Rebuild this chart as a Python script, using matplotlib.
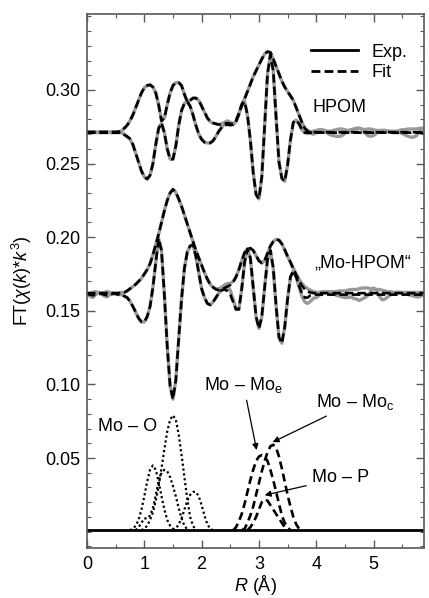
import numpy as np
import matplotlib.pyplot as plt
from matplotlib.lines import Line2D
from matplotlib.ticker import MultipleLocator

plt.rcParams['font.family'] = ['Liberation Sans', 'DejaVu Sans']
plt.rcParams['mathtext.fontset'] = 'custom'
plt.rcParams['mathtext.rm'] = 'Liberation Sans'
plt.rcParams['mathtext.it'] = 'Liberation Sans:italic'

# R grid (Angstrom), 0.00 ... 5.90 in 0.05 steps
r = np.round(np.arange(0, 5.901, 0.05), 2)

# vertical offsets used to stack the spectra
off_hpom = 0.271
off_mohpom = 0.161

# ---- HPOM, values in units of 0.001 ----
hpom_fit_mag = [
    0.5, 0.5, 0.5, 0.5, 0.5, 0.5, 0.5, 0.5, 0.5, 0.5,
    0.5, 0.7, 1, 3, 5, 8, 12, 17, 22, 27,
    30.5, 32, 32.5, 31, 27, 19, 8, 10, 19, 27,
    32, 34, 34, 32, 26, 21, 22, 23.5, 23.5, 22,
    18, 14, 10, 7.5, 6.5, 6, 5.5, 5.5, 6, 6.5,
    6, 6, 8, 13, 19, 23, 28, 33, 38, 42,
    46, 50, 53.5, 55, 54.5, 50, 45, 40, 35, 31,
    28, 25, 22, 17, 12, 7, 3, 1, 0.3, 0.3,
    0.3, 0.3, 0.3, 0.3, 0.3, 0.3, 0.3, 0.3, 0.3, 0.3,
    0.3, 0.3, 0.3, 0.3, 0.3, 0.3, 0.3, 0.3, 0.3, 0.3,
    0.3, 0.3, 0.3, 0.3, 0.3, 0.3, 0.3, 0.3, 0.3, 0.3,
    0.3, 0.3, 0.3, 0.3, 0.3, 0.3, 0.3, 0.3, 0.3]
hpom_fit_im = [
    0, 0, 0, 0, 0, 0, 0, 0, 0, 0,
    0, 0, 0, -1.5, -2.5, -4, -8, -14, -20, -26,
    -30, -31.5, -29, -21, -8, 3, 6.5, 0, -11, -18,
    -18, -9, 5, 15, 20, 21, 18, 12, 5, -1,
    -4.5, -6.5, -7, -7, -5.5, -2.5, 1, 3.5, 5, 5.5,
    5, 5.5, 7.5, 12.5, 18.5, 21, 12, -5, -27, -42,
    -45, -30, 5, 40, 53, 42, 10, -20, -31, -33,
    -22, -5, 7, 8.5, 6, 2, 0, 0, 0, 0,
    0, 0, 0, 0, 0, 0, 0, 0, 0, 0,
    0, 0, 0, 0, 0, 0, 0, 0, 0, 0,
    0, 0, 0, 0, 0, 0, 0, 0, 0, 0,
    0, 0, 0, 0, 0, 0, 0, 0, 0]
hpom_exp_mag = [
    0.5, 0.5, 0.5, 0.5, 0.5, 0.5, 0.5, 0.5, 0.5, 0.5,
    0.5, 0.7, 1, 3, 5, 8, 12, 17, 22, 27,
    30.5, 32, 32.5, 31, 27, 19, 8, 10, 19, 27,
    32, 34, 34, 32, 26, 21, 22, 23.5, 23.5, 22,
    18, 14, 10, 7.5, 6.5, 6, 5.5, 6, 7, 8,
    7, 6, 8, 13, 19, 23, 28, 33, 38, 42,
    46, 50, 53.5, 55, 54.5, 50, 45, 40, 35, 31,
    28, 25, 22, 17, 12, 7, 3, 1.5, 0.5, 1,
    1.5, 2, 2, 1.5, 1, 1, 1.5, 2, 2.5, 2.5,
    2, 1.5, 1.5, 2, 2.5, 3, 2.5, 2, 2.5, 2.5,
    2, 1.5, 1.5, 1.5, 1.5, 1, 1, 1, 1, 1.5,
    2, 2, 2.5, 2.5, 2.5, 2.5, 3, 3, 3]
hpom_exp_im = [
    0, 0, 0, 0, 0, 0, 0, 0, 0, 0,
    0, 0, 0, -1, -3, -4.5, -8, -14, -20, -26,
    -30, -31.5, -29, -21, -8, 3, 6.5, 0, -11, -18,
    -18, -9, 5, 15, 20, 21, 18, 12, 5, -1,
    -4.5, -6.5, -7, -7, -5.5, -2.5, 1, 3.5, 6, 7,
    6.5, 5.5, 7.5, 12.5, 18.5, 21, 12, -5, -27, -42,
    -45, -30, 5, 40, 53, 42, 10, -20, -31, -33,
    -22, -5, 7, 8.5, 6, 2, 0, -0.5, -0.5, -1,
    0, 1.5, 2, 1, -0.5, -1.5, -2, -2.5, -2.5, -2,
    -0.5, 1, 2, 2.5, 3, 3, 2, 0, -2, -2.5,
    -2, -0.5, 1, 1.5, 1.5, 1, 0.5, 0, 0, 0,
    -0.5, -1.5, -2.5, -3, -3, -2, 0.5, 2.5, 3.5]

# ---- "Mo-HPOM", values in units of 0.001 ----
mohpom_fit_mag = [
    1, 1, 1, 1, 1, 1, 1, 1, 1, 1,
    1, 1, 1.5, 1.5, 2.5, 4, 5.5, 7, 9, 11,
    14, 17, 21, 27, 34, 41, 49, 57, 64, 69,
    71.5, 69.5, 65, 60, 54, 48, 42, 36, 30, 25,
    20, 15, 10.5, 7, 5, 3.5, 3, 3.5, 4.5, 5.5,
    6.5, 8.5, 12, 17, 23, 28.5, 31, 31.5, 30, 26.5,
    23, 21.5, 23, 28, 33, 36, 37.5, 37, 34.5, 30.5,
    26, 22, 17.5, 13.5, 9.5, 6, 3.5, 2, 1.5, 1,
    1, 1, 1, 1, 1, 1, 1, 1, 1, 1,
    1, 1, 1, 1, 1, 1, 1, 1, 1, 1,
    1, 1, 1, 1, 1, 1, 1, 1, 1, 1,
    1, 1, 1, 1, 1, 1, 1, 1, 1]
mohpom_fit_im = [
    0.5, 0, -0.5, 0, 0.5, 0.5, 0, -0.5, 0, 0.5,
    0.5, 0, 0, -1, -2, -4.5, -8, -12, -16, -18.5,
    -18.5, -15, -8, 5, 22, 38, 30, 0, -35, -62,
    -71, -58, -30, -3, 18, 29, 33, 34, 26, 15,
    4, -2, -6, -7, -5, -2, 1, 3, 3.5, 2.5,
    0, -5, -10, -10, 4, 22, 31, 25, 5, -15,
    -23, -15, 5, 24, 30, 18, -8, -29, -33, -22,
    -3, 12, 16, 12, 6, 1, -2, -2, -0.5, 0,
    0, 0, 0, 0, 0, 0, 0, 0, 0, 0,
    0, 0, 0, 0, 0, 0, 0, 0, 0, 0,
    0, 0, 0, 0, 0, 0, 0, 0, 0, 0,
    0, 0, 0, 0, 0, 0, 0, 0, 0]
mohpom_exp_mag = [
    1, 1, 1.5, 2, 1.5, 1, 1.5, 2, 1.5, 1,
    1, 1, 1.5, 1.5, 2.5, 4, 5.5, 7, 9, 11,
    14, 17, 21, 27, 34, 41, 49, 57, 64, 69,
    71.5, 69.5, 65, 60, 54, 48, 42, 36, 30, 25,
    20, 15, 10.5, 7, 5, 4, 4, 5, 6.5, 7.5,
    7.5, 9, 12, 17, 23, 28.5, 31, 31.5, 30, 26.5,
    23, 21.5, 23, 28, 33, 36, 37.5, 37, 34.5, 30.5,
    26, 22, 18, 14, 10.5, 7.5, 5.5, 4, 3, 2,
    1.5, 1.5, 2, 2, 2, 2, 2, 2, 2.5, 2.5,
    2.5, 3, 3.5, 3.5, 3.5, 4, 4.5, 4.5, 4.5, 4,
    4, 3.5, 3.5, 3, 2.5, 2, 2, 1.5, 1.5, 1.5,
    1.5, 1.5, 1.5, 1.5, 1.5, 1.5, 1.5, 1.5, 1.5]
mohpom_exp_im = [
    0.5, -1, -2, 0, 1.5, 1, -1, -1.5, 0, 1,
    0.5, 0, 0, -1, -2, -4.5, -8, -12, -16, -18.5,
    -18.5, -15, -8, 5, 22, 38, 30, 0, -35, -62,
    -71, -58, -30, -3, 18, 29, 33, 34, 26, 15,
    4, -2, -6, -7, -5, -2, 1, 3.5, 5, 5.5,
    3, -3, -10, -10, 4, 22, 31, 25, 5, -15,
    -23, -15, 5, 24, 30, 18, -8, -29, -33, -22,
    -3, 12, 16, 12, 5, -1, -5, -6, -4.5, -2.5,
    -2, -0.5, 1, 1.5, 2, 1.5, 1, -0.5, -1, -1.5,
    -2, -2, -1.5, -2.5, -3, -4, -3, -2, -0.5, 2,
    4.5, 3, -1, -3.5, -3, -1.5, 0, 1, 1.5, 1.5,
    1, 0.5, 0, -0.5, -1, -1.5, -1.5, -0.5, 0]

# ---- single-shell contributions (absolute values, units of 0.001) ----
mo_o1_r = [0.75, 0.8, 0.85, 0.9, 0.95, 1.0, 1.05, 1.1, 1.15, 1.2, 1.25, 1.3, 1.35, 1.4, 1.45, 1.5, 1.55]
mo_o1_y = [1, 2, 4, 8, 15, 24, 34, 42, 45, 42, 34, 24, 15, 8, 4, 2, 1]
mo_o2_r = [0.95, 1.0, 1.05, 1.1, 1.15, 1.2, 1.25, 1.3, 1.35, 1.4, 1.45, 1.5, 1.55, 1.6, 1.65, 1.7, 1.75, 1.8, 1.85, 1.9]
mo_o2_y = [1, 2, 4, 8, 13, 21, 31, 43, 56, 68, 76, 79, 76, 66, 52, 37, 22, 10, 4, 1]
mo_o3_r = [0.85, 0.9, 0.95, 1.0, 1.05, 1.1, 1.15, 1.2, 1.25, 1.3, 1.35, 1.4, 1.45, 1.5, 1.55, 1.6, 1.65, 1.7, 1.75]
mo_o3_y = [1, 3, 6, 9, 9, 11, 16, 25, 34, 40, 42, 41, 37, 31, 24, 16, 9, 4, 1.5]
mo_o4_r = [1.5, 1.55, 1.6, 1.65, 1.7, 1.75, 1.8, 1.85, 1.9, 1.95, 2.0, 2.05, 2.1, 2.15, 2.2]
mo_o4_y = [1, 2, 5, 9, 15, 21, 25, 27, 27, 24, 18, 11, 5, 2, 1]

mo_moe_r = [2.55, 2.6, 2.65, 2.7, 2.75, 2.8, 2.85, 2.9, 2.95, 3.0, 3.05, 3.1, 3.15, 3.2, 3.25, 3.3, 3.35, 3.4, 3.45, 3.5, 3.55]
mo_moe_y = [1, 3, 7, 12, 19, 27, 35, 42, 48, 51, 52, 51, 48, 42, 35, 27, 19, 11, 6, 3, 1]
mo_moc_r = [2.7, 2.75, 2.8, 2.85, 2.9, 2.95, 3.0, 3.05, 3.1, 3.15, 3.2, 3.25, 3.3, 3.35, 3.4, 3.45, 3.5, 3.55, 3.6, 3.65, 3.7, 3.75]
mo_moc_y = [1, 2, 6, 11, 17, 25, 33, 41, 48, 54, 58, 59, 57, 51, 43, 34, 25, 17, 10, 5, 2, 1]
mo_p_r = [2.8, 2.85, 2.9, 2.95, 3.0, 3.05, 3.1, 3.15, 3.2, 3.25, 3.3, 3.35, 3.4, 3.45, 3.5]
mo_p_y = [1, 3, 6, 10, 15, 20, 22, 21, 18, 15, 12, 9, 6, 3, 1]
base_level = 0.0012


def k(v):
    return np.array(v) / 1000.0


fig = plt.figure(figsize=(4.29, 5.98), dpi=100)
ax = fig.add_axes([0.2028, 0.0836, 0.7855, 0.893])

exp_kw = dict(color='0.6', lw=2.4, solid_capstyle='round')
fit_kw = dict(color='black', lw=1.9, ls=(0, (3.2, 1.5)))

for mag, im, off in [(hpom_exp_mag, hpom_exp_im, off_hpom),
                     (mohpom_exp_mag, mohpom_exp_im, off_mohpom)]:
    ax.plot(r, k(mag) + off, **exp_kw)
    ax.plot(r, k(im) + off, **exp_kw)
for mag, im, off in [(hpom_fit_mag, hpom_fit_im, off_hpom),
                     (mohpom_fit_mag, mohpom_fit_im, off_mohpom)]:
    ax.plot(r, k(mag) + off, **fit_kw)
    ax.plot(r, k(im) + off, **fit_kw)

ax.axhline(base_level, color='black', lw=2.0)
for rr, yy in [(mo_o1_r, mo_o1_y), (mo_o2_r, mo_o2_y), (mo_o3_r, mo_o3_y), (mo_o4_r, mo_o4_y)]:
    ax.plot(rr, k(yy), color='black', lw=1.6, ls=(0, (1, 1.2)))
for rr, yy in [(mo_moe_r, mo_moe_y), (mo_moc_r, mo_moc_y), (mo_p_r, mo_p_y)]:
    ax.plot(rr, k(yy), color='black', lw=1.9, ls=(0, (3.0, 1.7)))

fs = 13
ax.text(4.41, 0.288, 'HPOM', fontsize=fs, ha='center', va='center')
ax.text(4.81, 0.1825, '\u201eMo-HPOM\u201c', fontsize=fs, ha='center', va='center')
ax.text(0.70, 0.0717, 'Mo \u2013 O', fontsize=fs, ha='center', va='center')

arw = dict(arrowstyle='-|>', color='black', lw=0.9, mutation_scale=9, shrinkA=2, shrinkB=0)
ax.annotate('Mo \u2013 Mo$_\\mathrm{e}$', xy=(2.96, 0.0554), xytext=(2.73, 0.0998),
            fontsize=fs, ha='center', va='center', arrowprops=arw)
ax.annotate('Mo \u2013 Mo$_\\mathrm{c}$', xy=(3.24, 0.0608), xytext=(4.68, 0.0880),
            fontsize=fs, ha='center', va='center', arrowprops=arw)
ax.annotate('Mo \u2013 P', xy=(3.10, 0.0248), xytext=(4.42, 0.0365),
            fontsize=fs, ha='center', va='center', arrowprops=arw)

handles = [Line2D([], [], color='black', lw=2.0),
           Line2D([], [], color='black', lw=2.0, ls=(0, (3.2, 1.5)))]
ax.legend(handles, ['Exp.', 'Fit'], loc='upper right', bbox_to_anchor=(1.0, 0.975),
          frameon=False, fontsize=fs, handlelength=2.6, handletextpad=0.75,
          labelspacing=0.2, borderaxespad=0.5)

ax.set_xlim(0, 5.88)
ax.set_ylim(-0.0111, 0.3516)
ax.set_yticks([0.05, 0.10, 0.15, 0.20, 0.25, 0.30])
ax.set_yticklabels(['0.05', '0.10', '0.15', '0.20', '0.25', '0.30'])
ax.set_xticks([0, 1, 2, 3, 4, 5])
ax.xaxis.set_minor_locator(MultipleLocator(0.5))
ax.yaxis.set_minor_locator(MultipleLocator(0.01))
ax.tick_params(which='both', direction='in', top=True, right=True, colors='0.35',
               labelcolor='black', labelsize=fs)
ax.tick_params(which='major', length=6, width=1.0)
ax.tick_params(which='minor', length=3, width=0.8)
ax.tick_params(axis='y', pad=5)
ax.tick_params(axis='x', pad=6)
for sp in ax.spines.values():
    sp.set_color('0.35')
    sp.set_linewidth(1.2)

ax.set_ylabel('FT($\\chi$($k$)*$k^3$)', fontsize=fs, labelpad=8)
ax.set_xlabel('$R$ (\u00c5)', fontsize=fs, labelpad=0)

fig.savefig('out.png', dpi=100)
